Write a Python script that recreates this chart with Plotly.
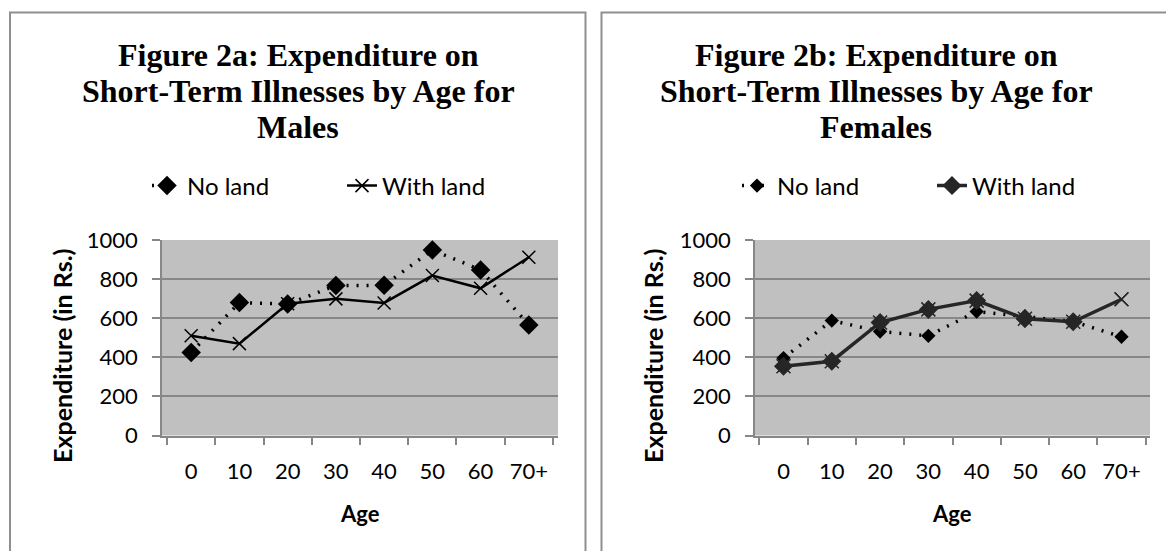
import plotly.graph_objects as go

W, H = 1166, 551

ages = ["0", "10", "20", "30", "40", "50", "60", "70+"]

males_no_land = [425, 680, 672, 767, 768, 949, 847, 565]
males_with_land = [510, 470, 674, 699, 678, 818, 753, 912]

females_no_land = [396, 588, 532, 510, 634, 610, 583, 505]
females_with_land = [354, 380, 578, 645, 690, 597, 582, 697]

series_names = ["No land", "With land"]
y_ticks = [0, 200, 400, 600, 800, 1000]

title_a = ["Figure 2a: Expenditure on", "Short-Term Illnesses by Age for", "Males"]
title_b = ["Figure 2b: Expenditure on", "Short-Term Illnesses by Age for", "Females"]
x_title = "Age"
y_title = "Expenditure (in Rs.)"

SANS = "Lato"
SERIF = "Liberation Serif"
GRID = "#878787"


def px(x):
    return x / W


def py(y):
    return (H - y) / H


fig = go.Figure()

# ---- Left panel (males) ----
fig.add_trace(go.Scatter(
    x=ages, y=males_no_land, name=series_names[0], mode="lines+markers",
    line=dict(color="black", width=3.5, dash="2px,8px"),
    marker=dict(symbol="diamond", size=15, color="black"),
    xaxis="x", yaxis="y", legend="legend",
))
fig.add_trace(go.Scatter(
    x=ages, y=males_with_land, name=series_names[1], mode="lines+markers",
    line=dict(color="black", width=2.5),
    marker=dict(symbol="x-thin", size=13, line=dict(color="black", width=1.5)),
    xaxis="x", yaxis="y", legend="legend",
))

# ---- Right panel (females) ----
fig.add_trace(go.Scatter(
    x=ages, y=females_no_land, name=series_names[0], mode="lines+markers",
    line=dict(color="black", width=3.5, dash="2px,8px"),
    marker=dict(symbol="diamond", size=11, color="black"),
    xaxis="x2", yaxis="y2", legend="legend2",
))
wl_symbols = ["diamond"] * (len(ages) - 1) + ["x-thin"]
fig.add_trace(go.Scatter(
    x=ages, y=females_with_land, name=series_names[1], mode="lines+markers",
    line=dict(color="#262626", width=3.5),
    marker=dict(symbol=wl_symbols, size=13, color="#262626",
                line=dict(color="#262626", width=1.5)),
    xaxis="x2", yaxis="y2", legend="legend2",
))
fig.add_trace(go.Scatter(
    x=ages, y=females_with_land, mode="markers", showlegend=False,
    marker=dict(symbol="x-thin", size=14, line=dict(color="#262626", width=1.5)),
    xaxis="x2", yaxis="y2",
))

y_dom = [py(435.5), py(240)]
xaxis_common = dict(
    type="category", tickson="boundaries", ticks="outside", ticklen=8,
    tickcolor=GRID, tickwidth=1.5, showline=True, linecolor=GRID, linewidth=1.5,
    showgrid=False, tickfont=dict(family=SANS, size=22, color="black"),
    ticklabelstandoff=15, fixedrange=True, automargin=False,
)
yaxis_common = dict(
    range=[0, 1000], tickvals=y_ticks, ticks="outside", ticklen=8,
    tickcolor=GRID, tickwidth=1.5, showline=True, linecolor=GRID, linewidth=1.5,
    showgrid=True, gridcolor=GRID, gridwidth=1.5, zeroline=False,
    tickfont=dict(family=SANS, size=22, color="black"),
    ticklabelstandoff=10, domain=y_dom, automargin=False, fixedrange=True,
)

legend_common = dict(
    orientation="h", xanchor="center", y=py(186), yanchor="middle",
    font=dict(family=SANS, size=24, color="black"), bgcolor="rgba(0,0,0,0)",
    traceorder="normal", entrywidth=150, entrywidthmode="pixels",
)

fig.update_layout(
    width=W, height=H,
    margin=dict(l=0, r=0, t=0, b=0, pad=0, autoexpand=False),
    paper_bgcolor="white",
    plot_bgcolor="#C0C0C0",
    xaxis=dict(xaxis_common, domain=[px(162), px(558)], anchor="y"),
    yaxis=dict(yaxis_common, anchor="x"),
    xaxis2=dict(xaxis_common, domain=[px(755), px(1150)], anchor="y2"),
    yaxis2=dict(yaxis_common, anchor="x2"),
    legend=dict(legend_common, x=px(342)),
    legend2=dict(legend_common, x=px(932)),
    showlegend=True,
)

# Frames around each chart
frame = dict(type="rect", xref="paper", yref="paper", line=dict(color="#8f8f8f", width=2),
             fillcolor="rgba(0,0,0,0)", layer="below")
fig.add_shape(frame, x0=px(10), x1=px(585.5), y0=-0.1, y1=py(12.5))
fig.add_shape(frame, x0=px(601.5), x1=1.1, y0=-0.1, y1=py(12.5))

# Titles
annotations = []
line_y = [55, 91, 127]
for cx, lines in [(298, title_a), (876, title_b)]:
    for ly, txt in zip(line_y, lines):
        annotations.append(dict(
            text=txt, x=px(cx), y=py(ly), xref="paper", yref="paper",
            xanchor="center", yanchor="middle", showarrow=False,
            font=dict(family=SERIF, size=32, color="black", weight="bold"),
        ))

# Axis titles
for cx in [360, 952]:
    annotations.append(dict(
        text=x_title, x=px(cx), y=py(513), xref="paper", yref="paper",
        xanchor="center", yanchor="middle", showarrow=False,
        font=dict(family=SANS, size=22, color="black", weight="bold"),
    ))
for cx in [62, 653]:
    annotations.append(dict(
        text=y_title, x=px(cx), y=py(465), xref="paper", yref="paper",
        xanchor="center", yanchor="bottom", showarrow=False, textangle=-90,
        font=dict(family=SANS, size=25, color="black", weight="bold"),
    ))

fig.update_layout(annotations=annotations)

fig.write_html(
    "out.html",
    config={"displayModeBar": False},
    post_script="document.body.style.margin='0px';document.body.style.overflow='hidden';",
)
